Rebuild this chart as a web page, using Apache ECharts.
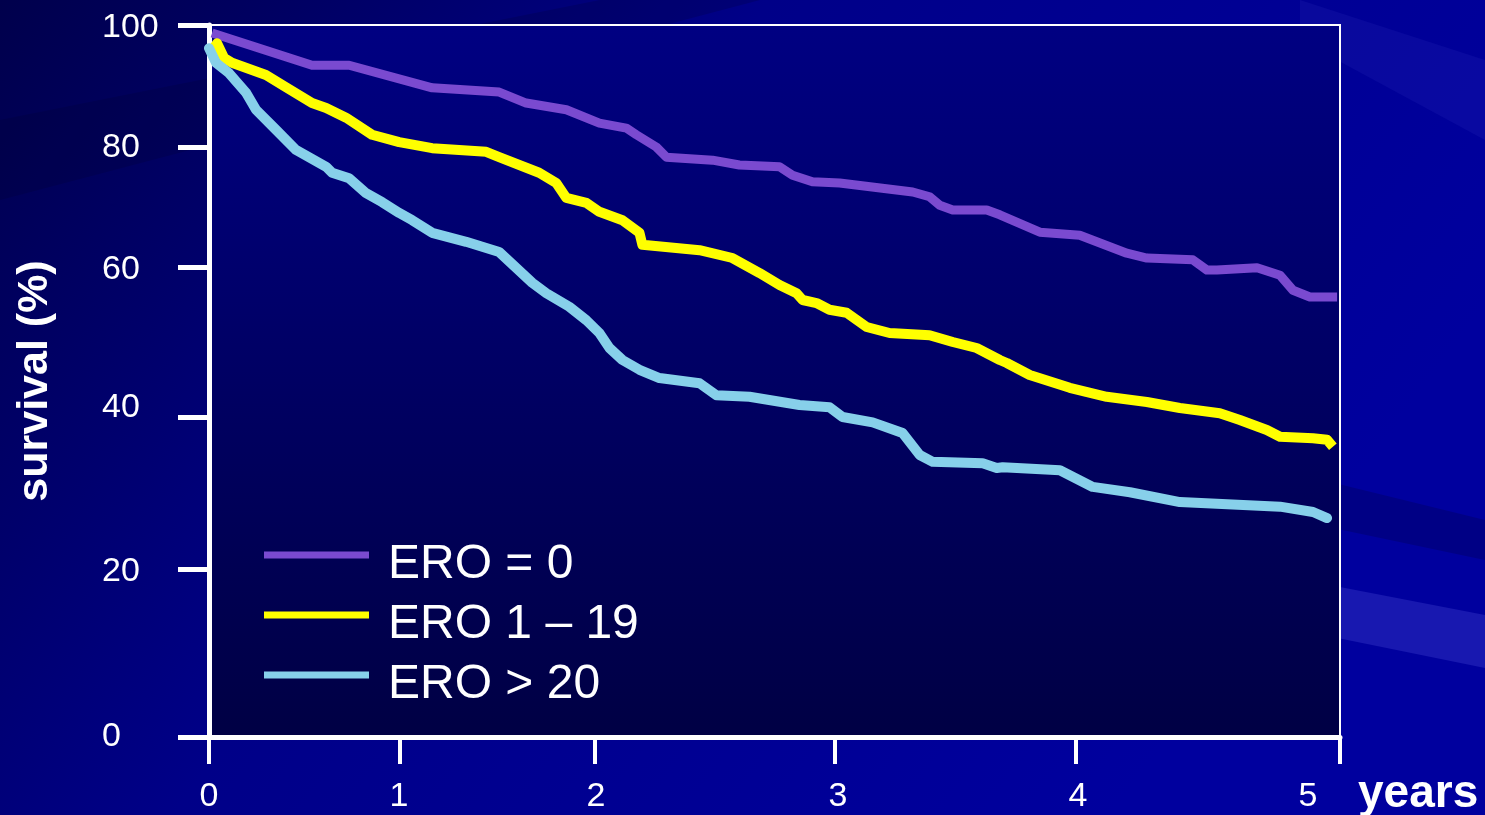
<!DOCTYPE html>
<html>
<head>
<meta charset="utf-8">
<script src="https://cdn.jsdelivr.net/npm/echarts@6/dist/echarts.min.js"></script>
<style>
html,body{margin:0;padding:0;background:#000070;}
#chart{width:1485px;height:815px;}
</style>
</head>
<body>
<div id="chart"></div>
<script>
// ---- data ----
const seriesNames = ['ERO = 0', 'ERO 1 \u2013 19', 'ERO > 20'];

const ero0Years = [0.016, 0.539, 0.733, 1.165, 1.510, 1.649, 1.856, 2.021, 2.133, 2.175, 2.258, 2.300, 2.492, 2.604, 2.771, 2.825, 2.908, 3.021, 3.324, 3.394, 3.436, 3.490, 3.631, 3.685, 3.851, 4.015, 4.193, 4.269, 4.443, 4.496, 4.534, 4.686, 4.773, 4.822, 4.886, 4.989];
const ero0Surv  = [98.7, 93.4, 93.4, 89.7, 89.0, 87.2, 86.1, 83.9, 83.1, 82.0, 80.0, 78.3, 77.8, 77.0, 76.7, 75.3, 74.2, 74.0, 72.5, 71.7, 70.3, 69.5, 69.5, 68.7, 65.8, 65.3, 62.3, 61.5, 61.2, 59.6, 59.6, 59.9, 58.9, 56.9, 56.0, 56.0];

const ero1Years = [0.010, 0.042, 0.079, 0.120, 0.298, 0.403, 0.539, 0.613, 0.717, 0.853, 0.995, 1.165, 1.443, 1.510, 1.716, 1.804, 1.856, 1.959, 2.021, 2.117, 2.188, 2.200, 2.438, 2.575, 2.688, 2.771, 2.842, 2.867, 2.925, 2.979, 3.050, 3.133, 3.228, 3.394, 3.490, 3.589, 3.685, 3.714, 3.809, 3.975, 4.117, 4.269, 4.394, 4.545, 4.621, 4.723, 4.773, 4.898, 4.951, 4.973];
const ero1Surv  = [95.6, 97.0, 94.6, 93.8, 91.8, 89.8, 87.2, 86.4, 84.8, 82.0, 80.8, 79.8, 79.2, 78.3, 75.7, 74.0, 71.5, 70.7, 69.2, 67.8, 65.7, 63.7, 62.8, 61.5, 59.2, 57.6, 56.5, 55.6, 55.2, 54.3, 53.9, 52.0, 51.2, 50.9, 50.0, 49.2, 47.6, 47.2, 45.6, 43.9, 42.7, 42.0, 41.2, 40.5, 39.6, 38.3, 37.4, 37.2, 37.0, 36.1];

const ero20Years = [0.0, 0.037, 0.105, 0.194, 0.246, 0.351, 0.455, 0.613, 0.644, 0.733, 0.822, 0.906, 0.995, 1.062, 1.165, 1.340, 1.510, 1.680, 1.753, 1.871, 1.959, 2.021, 2.063, 2.117, 2.188, 2.271, 2.438, 2.508, 2.646, 2.854, 2.979, 3.033, 3.158, 3.282, 3.353, 3.407, 3.614, 3.672, 3.697, 3.934, 4.064, 4.205, 4.394, 4.773, 4.898, 4.951];
const ero20Surv  = [96.2, 93.8, 92.1, 88.9, 86.1, 82.8, 79.5, 76.7, 75.7, 74.8, 72.3, 70.8, 69.0, 67.8, 65.7, 64.2, 62.5, 57.9, 56.5, 54.7, 52.9, 51.2, 49.2, 47.6, 46.3, 45.2, 44.5, 42.9, 42.7, 41.6, 41.3, 40.0, 39.3, 37.9, 35.0, 34.1, 33.9, 33.3, 33.4, 33.0, 30.8, 30.1, 28.8, 28.2, 27.5, 26.7];

const xTickLabels = ['0', '1', '2', '3', '4', '5'];
const yTickLabels = ['0', '20', '40', '60', '80', '100'];
const xTickValues = [0, 1, 2, 3, 4, 5];
const yTickValues = [0, 20, 40, 60, 80, 100];

// ---- layout: the original slide uses unevenly spaced ticks (fraction of axis length) ----
const xTickFrac  = [0, 0.1690, 0.3407, 0.5531, 0.7664, 1];
const yTickFrac  = [0, 0.2360, 0.4494, 0.6601, 0.8287, 1];
const xLabelFrac = [0, 0.1680, 0.3422, 0.5562, 0.7683, 0.9717];
const yLabelFrac = [0, 0.2317, 0.4621, 0.6559, 0.8272, 0.9958];

function warp(v, from, to) {
  for (let i = 0; i < from.length - 1; i++) {
    if (v <= from[i + 1] || i === from.length - 2) {
      return to[i] + (v - from[i]) / (from[i + 1] - from[i]) * (to[i + 1] - to[i]);
    }
  }
}
function toData(xs, ys) {
  return xs.map((x, i) => [warp(x, xTickValues, xTickFrac), warp(ys[i], yTickValues, yTickFrac)]);
}
function labelFor(v, fracs, labels) {
  let best = 0, bd = Infinity;
  fracs.forEach((f, i) => { const d = Math.abs(f - v); if (d < bd) { bd = d; best = i; } });
  return bd < 1e-4 ? labels[best] : '';
}

const FONT = '"Liberation Sans", Arial, Helvetica, sans-serif';
const colors = ['#7a4ad0', '#ffff00', '#87d0ea'];

const chart = echarts.init(document.getElementById('chart'), null, {renderer: 'canvas'});
const option = {
  animation: false,
  graphic: {
    elements: [
      {type: 'rect', z: -100, silent: true, shape: {x: 0, y: 0, width: 1485, height: 815},
        style: {fill: new echarts.graphic.LinearGradient(0, 0, 0.75, 1, [
          {offset: 0, color: '#00004c'}, {offset: 0.45, color: '#000088'}, {offset: 1, color: '#00009e'}])}},
      {type: 'polygon', z: -99, silent: true, shape: {points: [[0, 120], [600, 0], [760, 0], [0, 200]]},
        style: {fill: 'rgba(0,0,40,0.18)'}},
      {type: 'polygon', z: -99, silent: true, shape: {points: [[1200, 560], [1485, 615], [1485, 668], [1200, 610]]},
        style: {fill: 'rgba(70,70,210,0.35)'}},
      {type: 'polygon', z: -99, silent: true, shape: {points: [[1200, 450], [1485, 520], [1485, 560], [1200, 500]]},
        style: {fill: 'rgba(0,0,60,0.25)'}},
      {type: 'polygon', z: -99, silent: true, shape: {points: [[1300, 0], [1485, 60], [1485, 140], [1300, 40]]},
        style: {fill: 'rgba(60,60,200,0.15)'}}
    ]
  },
  grid: {
    left: 209, top: 25, width: 1131, height: 712,
    outerBoundsMode: 'none', containLabel: false,
    show: true,
    borderColor: '#ffffff', borderWidth: 2,
    backgroundColor: new echarts.graphic.LinearGradient(0, 0, 0, 1, [
      {offset: 0, color: '#000082'}, {offset: 1, color: '#000044'}])
  },
  legend: {
    orient: 'vertical', left: 264, top: 521, padding: 0,
    itemWidth: 105, itemHeight: 7, itemGap: -8,
    icon: 'rect', selectedMode: false,
    data: seriesNames,
    formatter: '{t|{name}}',
    textStyle: {color: '#ffffff', fontFamily: FONT,
      rich: {t: {color: '#ffffff', fontSize: 48, fontFamily: FONT, lineHeight: 36, padding: [20, 0, 0, 14]}}}
  },
  xAxis: {
    type: 'value', min: 0, max: 1,
    name: 'years', nameLocation: 'end', nameGap: 18,
    nameTextStyle: {color: '#ffffff', fontSize: 46, fontWeight: 'bold', fontFamily: FONT,
      align: 'left', verticalAlign: 'top', padding: [34, 0, 0, 0]},
    axisLine: {show: true, lineStyle: {color: '#ffffff', width: 5}},
    axisTick: {show: true, inside: false, length: 27, lineStyle: {color: '#ffffff', width: 4},
      customValues: xTickFrac},
    axisLabel: {show: true, color: '#ffffff', fontSize: 34, fontFamily: FONT, margin: 43,
      customValues: xLabelFrac, formatter: v => labelFor(v, xLabelFrac, xTickLabels)},
    splitLine: {show: false}
  },
  yAxis: {
    type: 'value', min: 0, max: 1,
    name: 'survival (%)', nameLocation: 'middle', nameGap: 152, nameRotate: 90,
    nameTextStyle: {color: '#ffffff', fontSize: 43, fontWeight: 'bold', fontFamily: FONT},
    axisLine: {show: true, lineStyle: {color: '#ffffff', width: 5}},
    axisTick: {show: true, inside: false, length: 31, lineStyle: {color: '#ffffff', width: 5},
      customValues: yTickFrac},
    axisLabel: {show: true, color: '#ffffff', fontSize: 34, fontFamily: FONT, margin: 107, align: 'left',
      customValues: yLabelFrac, formatter: v => labelFor(v, yLabelFrac, yTickLabels)},
    splitLine: {show: false}
  },
  series: [
    {name: seriesNames[0], type: 'line', data: toData(ero0Years, ero0Surv), color: colors[0],
      showSymbol: false, symbol: 'none', lineStyle: {width: 9, color: colors[0], join: 'round', cap: 'butt'}},
    {name: seriesNames[1], type: 'line', data: toData(ero1Years, ero1Surv), color: colors[1],
      showSymbol: false, symbol: 'none', lineStyle: {width: 10, color: colors[1], join: 'round', cap: 'butt'}},
    {name: seriesNames[2], type: 'line', data: toData(ero20Years, ero20Surv), color: colors[2],
      showSymbol: false, symbol: 'none', lineStyle: {width: 10, color: colors[2], join: 'round', cap: 'round'}}
  ]
};
chart.setOption(option);
</script>
</body>
</html>
